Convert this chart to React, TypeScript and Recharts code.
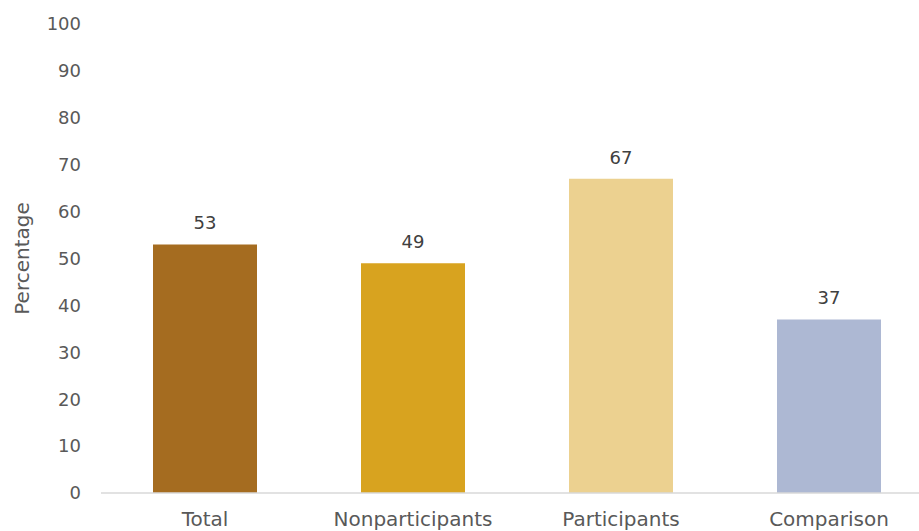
import { BarChart, Bar, XAxis, YAxis, Cell, LabelList } from "recharts"

const groups = ["Total", "Nonparticipants", "Participants", "Comparison"]
const percentages = [53, 49, 67, 37]
const barColors = ["#A56C20", "#D8A31F", "#ECD190", "#ADB8D3"]
const yTicks = [0, 10, 20, 30, 40, 50, 60, 70, 80, 90, 100]

const rows = groups.map((name, i) => ({ name, value: percentages[i] }))

const font = "'DejaVu Sans', sans-serif"

function PercentLabel(props: any) {
  const { x, y, height } = props.viewBox
  const cx = x + 22
  const cy = y + height / 2
  return (
    <text
      x={cx}
      y={cy}
      transform={`rotate(-90, ${cx}, ${cy})`}
      textAnchor="middle"
      dominantBaseline="central"
      fill="#595959"
      fontSize={20}
      fontFamily={font}
    >
      Percentage
    </text>
  )
}

export default function App() {
  return (
    <div style={{ position: "fixed", left: 0, top: 0, width: 919, height: 531, overflow: "hidden", background: "#fff" }}>
      <BarChart width={933} height={531} data={rows} margin={{ top: 24, right: 0, bottom: 0, left: 0 }}>
        <XAxis
          dataKey="name"
          height={38}
          tickLine={false}
          tickSize={0}
          tickMargin={19}
          axisLine={{ stroke: "#D9D9D9", strokeWidth: 1.5 }}
          tick={{ fill: "#595959", fontSize: 20, fontFamily: font }}
        />
        <YAxis
          width={101}
          domain={[0, 100]}
          ticks={yTicks}
          axisLine={false}
          tickLine={false}
          tickSize={0}
          tickMargin={20}
          tick={{ fill: "#595959", fontSize: 18, fontFamily: font }}
          label={<PercentLabel />}
        />
        <Bar dataKey="value" barSize={104} isAnimationActive={false}>
          {rows.map((r, i) => (
            <Cell key={r.name} fill={barColors[i]} />
          ))}
          <LabelList dataKey="value" position="top" offset={15} fill="#404040" fontSize={18} fontFamily={font} />
        </Bar>
      </BarChart>
    </div>
  )
}
